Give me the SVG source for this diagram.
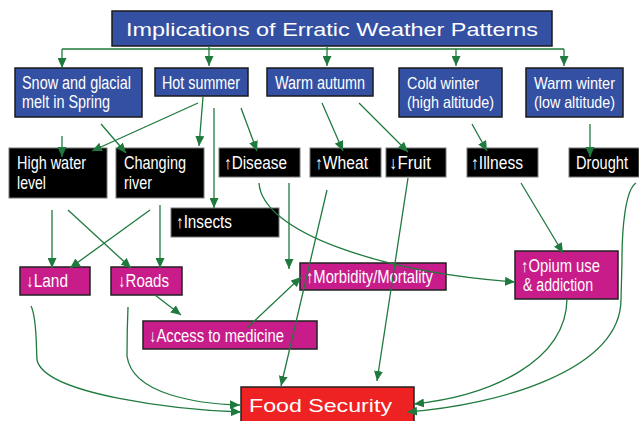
<svg xmlns="http://www.w3.org/2000/svg" width="639" height="421" viewBox="0 0 639 421">
<style>
text{font-family:"Liberation Sans",Arial,"DejaVu Sans",sans-serif;fill:#ffffff;font-size:17.5px}
.sm{font-size:16.5px}
.blue{fill:#3450A2;stroke:#1a1a1a;stroke-width:1.5}
.blk{fill:#000000;stroke:#777777;stroke-width:1}
.mag{fill:#C71C8A;stroke:#222222;stroke-width:1.5}
.red{fill:#EE2222;stroke:#222222;stroke-width:1.5}
.c path,.c line{fill:none;stroke:#1F7A3D;stroke-width:1.3}
.a{marker-end:url(#ah)}
</style>
<defs>
<marker id="ah" markerUnits="userSpaceOnUse" markerWidth="10" markerHeight="9" refX="10" refY="4.5" orient="auto">
<path d="M0,0 L10,4.5 L0,9 z" fill="#1F7A3D"/>
</marker>
</defs>
<rect width="639" height="421" fill="#ffffff"/>

<g id="title"><rect class="blue" x="112" y="11" width="440" height="35"/><text x="126" y="36" font-size="23" textLength="412" lengthAdjust="spacingAndGlyphs">Implications of Erratic Weather Patterns</text></g>

<g id="snow"><rect class="blue" x="15" y="68" width="127" height="49"/><text x="22" y="89" textLength="109" lengthAdjust="spacingAndGlyphs">Snow and glacial</text><text x="22" y="108" textLength="88" lengthAdjust="spacingAndGlyphs">melt in Spring</text></g>
<g id="hotsummer"><rect class="blue" x="155" y="68" width="93" height="28"/><text x="162" y="89" textLength="78" lengthAdjust="spacingAndGlyphs">Hot summer</text></g>
<g id="warmautumn"><rect class="blue" x="267" y="68" width="106" height="28"/><text x="275" y="89" textLength="90" lengthAdjust="spacingAndGlyphs">Warm autumn</text></g>
<g id="coldwinter"><rect class="blue" x="399" y="68" width="103" height="49"/><text class="sm" x="407" y="89" textLength="72" lengthAdjust="spacingAndGlyphs">Cold winter</text><text class="sm" x="407" y="108" textLength="87" lengthAdjust="spacingAndGlyphs">(high altitude)</text></g>
<g id="warmwinter"><rect class="blue" x="526" y="68" width="97" height="49"/><text class="sm" x="534" y="89" textLength="81" lengthAdjust="spacingAndGlyphs">Warm winter</text><text class="sm" x="534" y="108" textLength="81" lengthAdjust="spacingAndGlyphs">(low altitude)</text></g>

<g id="highwater"><rect class="blk" x="9" y="148" width="98" height="50"/><text x="17" y="169" textLength="69" lengthAdjust="spacingAndGlyphs">High water</text><text x="17" y="189" textLength="29" lengthAdjust="spacingAndGlyphs">level</text></g>
<g id="changingriver"><rect class="blk" x="116" y="148" width="88" height="50"/><text x="124" y="169" textLength="62" lengthAdjust="spacingAndGlyphs">Changing</text><text x="124" y="189" textLength="28" lengthAdjust="spacingAndGlyphs">river</text></g>
<g id="disease"><rect class="blk" x="219" y="148" width="81" height="29"/><text x="224" y="169" textLength="63" lengthAdjust="spacingAndGlyphs">↑Disease</text></g>
<g id="wheat"><rect class="blk" x="310" y="148" width="71" height="29"/><text x="315" y="169" textLength="53" lengthAdjust="spacingAndGlyphs">↑Wheat</text></g>
<g id="fruit"><rect class="blk" x="386" y="148" width="60" height="29"/><text x="389" y="169" textLength="42" lengthAdjust="spacingAndGlyphs">↓Fruit</text></g>
<g id="illness"><rect class="blk" x="467" y="148" width="71" height="29"/><text x="471" y="169" textLength="52" lengthAdjust="spacingAndGlyphs">↑Illness</text></g>
<g id="drought"><rect class="blk" x="569" y="148" width="70" height="29"/><text x="576" y="169" font-size="16.5" textLength="52" lengthAdjust="spacingAndGlyphs">Drought</text></g>
<g id="insects"><rect class="blk" x="171" y="208" width="108" height="29"/><text x="176" y="228" textLength="56" lengthAdjust="spacingAndGlyphs">↑Insects</text></g>

<g id="land"><rect class="mag" x="20" y="267" width="70" height="28"/><text x="26" y="287" textLength="42" lengthAdjust="spacingAndGlyphs">↓Land</text></g>
<g id="roads"><rect class="mag" x="111" y="267" width="71" height="28"/><text x="118" y="287" textLength="51" lengthAdjust="spacingAndGlyphs">↓Roads</text></g>
<g id="morbidity"><rect class="mag" x="300" y="263" width="146" height="27"/><text x="306" y="283" textLength="127" lengthAdjust="spacingAndGlyphs">↑Morbidity/Mortality</text></g>
<g id="opium"><rect class="mag" x="515" y="251" width="103" height="48"/><text x="521" y="272" textLength="79" lengthAdjust="spacingAndGlyphs">↑Opium use</text><text x="523" y="291" textLength="70" lengthAdjust="spacingAndGlyphs">&amp; addiction</text></g>
<g id="access"><rect class="mag" x="143" y="321" width="174" height="28"/><text x="149" y="342" textLength="135" lengthAdjust="spacingAndGlyphs">↓Access to medicine</text></g>
<g id="foodsecurity"><rect class="red" x="241" y="387" width="173" height="40"/><text x="249" y="412" font-size="24" textLength="143" lengthAdjust="spacingAndGlyphs">Food Security</text></g>

<g id="connectors" class="c">
<path d="M62,49 L564,49"/>
<line class="a" x1="62" y1="49" x2="62" y2="68"/>
<line class="a" x1="209" y1="46" x2="209" y2="66"/>
<line class="a" x1="327" y1="46" x2="327" y2="66"/>
<line class="a" x1="456" y1="49" x2="456" y2="66"/>
<line class="a" x1="564" y1="49" x2="564" y2="66"/>

<line class="a" x1="62" y1="136" x2="62" y2="157"/>
<line class="a" x1="101" y1="124" x2="126" y2="153"/>
<line class="a" x1="198" y1="103" x2="92" y2="151"/>
<line class="a" x1="203" y1="97" x2="199" y2="146"/>
<line class="a" x1="214" y1="108" x2="214" y2="208"/>
<line class="a" x1="241" y1="108" x2="257" y2="151"/>
<line class="a" x1="322" y1="103" x2="343" y2="151"/>
<line class="a" x1="359" y1="103" x2="408" y2="152"/>
<line class="a" x1="472" y1="124" x2="487" y2="151"/>
<line class="a" x1="590" y1="124" x2="590" y2="157"/>

<line class="a" x1="52" y1="210" x2="52" y2="268"/>
<line class="a" x1="68" y1="210" x2="131" y2="268"/>
<line class="a" x1="150" y1="210" x2="70" y2="268"/>
<line class="a" x1="160" y1="205" x2="160" y2="268"/>

<line class="a" x1="289" y1="183" x2="289" y2="269"/>
<path class="a" d="M259,183 C262,232 380,272 515,282"/>
<line class="a" x1="327" y1="190" x2="281" y2="386"/>
<line class="a" x1="408" y1="178" x2="377" y2="381"/>
<line class="a" x1="521" y1="183" x2="563" y2="253"/>

<line class="a" x1="155" y1="295" x2="181" y2="315"/>
<line class="a" x1="247" y1="328" x2="301" y2="277"/>

<path class="a" d="M31,306 C37,318 36,345 37,360 C45,395 180,410 241,412"/>
<path class="a" d="M128,307 C127,330 127,345 127,356 C132,395 200,404 240,405"/>
<path class="a" d="M567,299 C566,362 490,396 414,404"/>
<path class="a" d="M636,183 C625,190 622,230 622,260 L621,300 C620,370 500,405 407,412"/>
</g>
</svg>
